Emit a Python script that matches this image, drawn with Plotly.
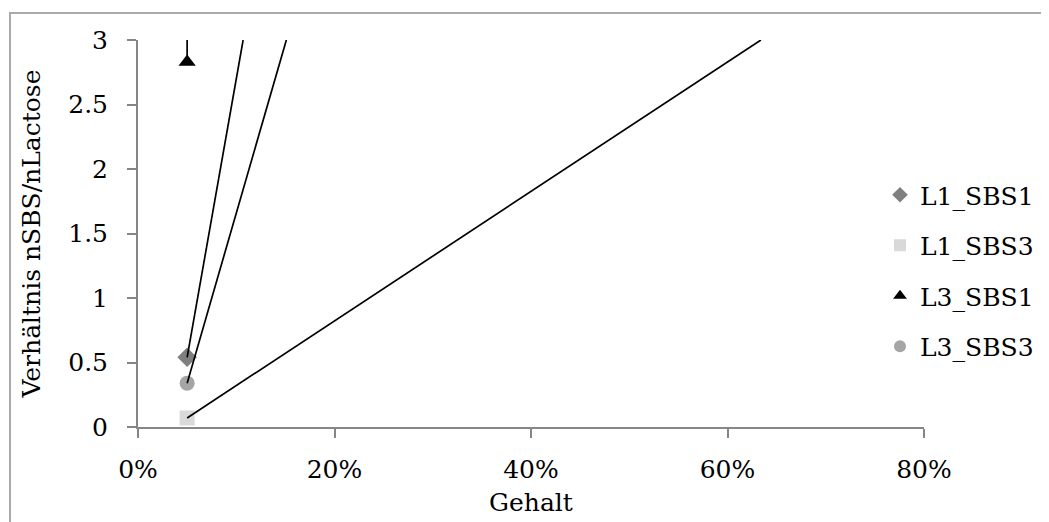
import plotly.graph_objects as go

# ---- data ----
series_names = ["L1_SBS1", "L1_SBS3", "L3_SBS1", "L3_SBS3"]
gehalt = [0.05, 0.05, 0.05, 0.05]
ratio = [0.54, 0.07, 2.83, 0.34]
# linear trend lines: start at the measured point, leave the plot at y = 3
trend_end_x = [0.107, 0.634, 0.050, 0.151]
trend_end_y = [3.0, 3.0, 3.0, 3.0]

x_ticks = [0, 0.2, 0.4, 0.6, 0.8]
y_ticks = [0, 0.5, 1, 1.5, 2, 2.5, 3]

# ---- styles ----
symbols = ["diamond", "square", "triangle-up", "circle"]
colors = ["#7f7f7f", "#d9d9d9", "#000000", "#a5a5a5"]
FONT = "DejaVu Serif"
FS = 25

fig = go.Figure()

for i, name in enumerate(series_names):
    fig.add_trace(go.Scatter(
        x=[gehalt[i]], y=[ratio[i]], mode="markers", name=name,
        legendgroup=name,
        marker=dict(symbol=symbols[i], color=colors[i], size=15,
                    line=dict(width=0)),
    ))

for i, name in enumerate(series_names):
    fig.add_trace(go.Scatter(
        x=[gehalt[i], trend_end_x[i]], y=[ratio[i], trend_end_y[i]],
        mode="lines", showlegend=False, hoverinfo="skip",
        line=dict(color="black", width=1.7),
    ))

OFF = 8  # page offset of the plot div
W, H = 1049, 522
px_left, px_right, px_top, px_bottom = 138 - OFF, 924 - OFF, 40 - OFF, 427 - OFF
L, R, T, B = px_left, W - px_right, px_top, H - px_bottom
PW, PH = px_right - px_left, px_bottom - px_top

fig.update_layout(
    width=W, height=H,
    margin=dict(l=L, r=R, t=T, b=B, pad=0),
    paper_bgcolor="white", plot_bgcolor="white",
    font=dict(family=FONT, size=FS, color="black"),
    showlegend=True,
    legend=dict(x=(880 - OFF - px_left) / PW, y=(px_bottom - (172 - OFF)) / PH,
                xanchor="left", yanchor="top",
                bgcolor="rgba(0,0,0,0)", font=dict(family=FONT, size=FS),
                traceorder="grouped", tracegroupgap=15, itemsizing="constant"),
    xaxis=dict(range=[0, 0.8], tickvals=x_ticks, tickformat=".0%",
               showgrid=False, zeroline=False, showline=True,
               linecolor="#868686", linewidth=2,
               ticks="outside", ticklen=9, tickcolor="#868686", tickwidth=2,
               ticklabelstandoff=10,
               title=dict(text="Gehalt", font=dict(family=FONT, size=FS), standoff=10)),
    yaxis=dict(range=[0, 3], tickvals=y_ticks,
               showgrid=False, zeroline=False, showline=True,
               linecolor="#868686", linewidth=2,
               ticks="outside", ticklen=9, tickcolor="#868686", tickwidth=2,
               ticklabelstandoff=14,
               title=dict(text="Verhältnis nSBS/nLactose", font=dict(family=FONT, size=FS), standoff=20)),
    shapes=[dict(type="rect", xref="paper", yref="paper",
                 x0=(10 - OFF - px_left) / PW, x1=1.3,
                 y0=-0.5, y1=(px_bottom - (13 - OFF)) / PH,
                 line=dict(color="#aaaaaa", width=2), layer="below")],
)

fig.write_html("out.html")
